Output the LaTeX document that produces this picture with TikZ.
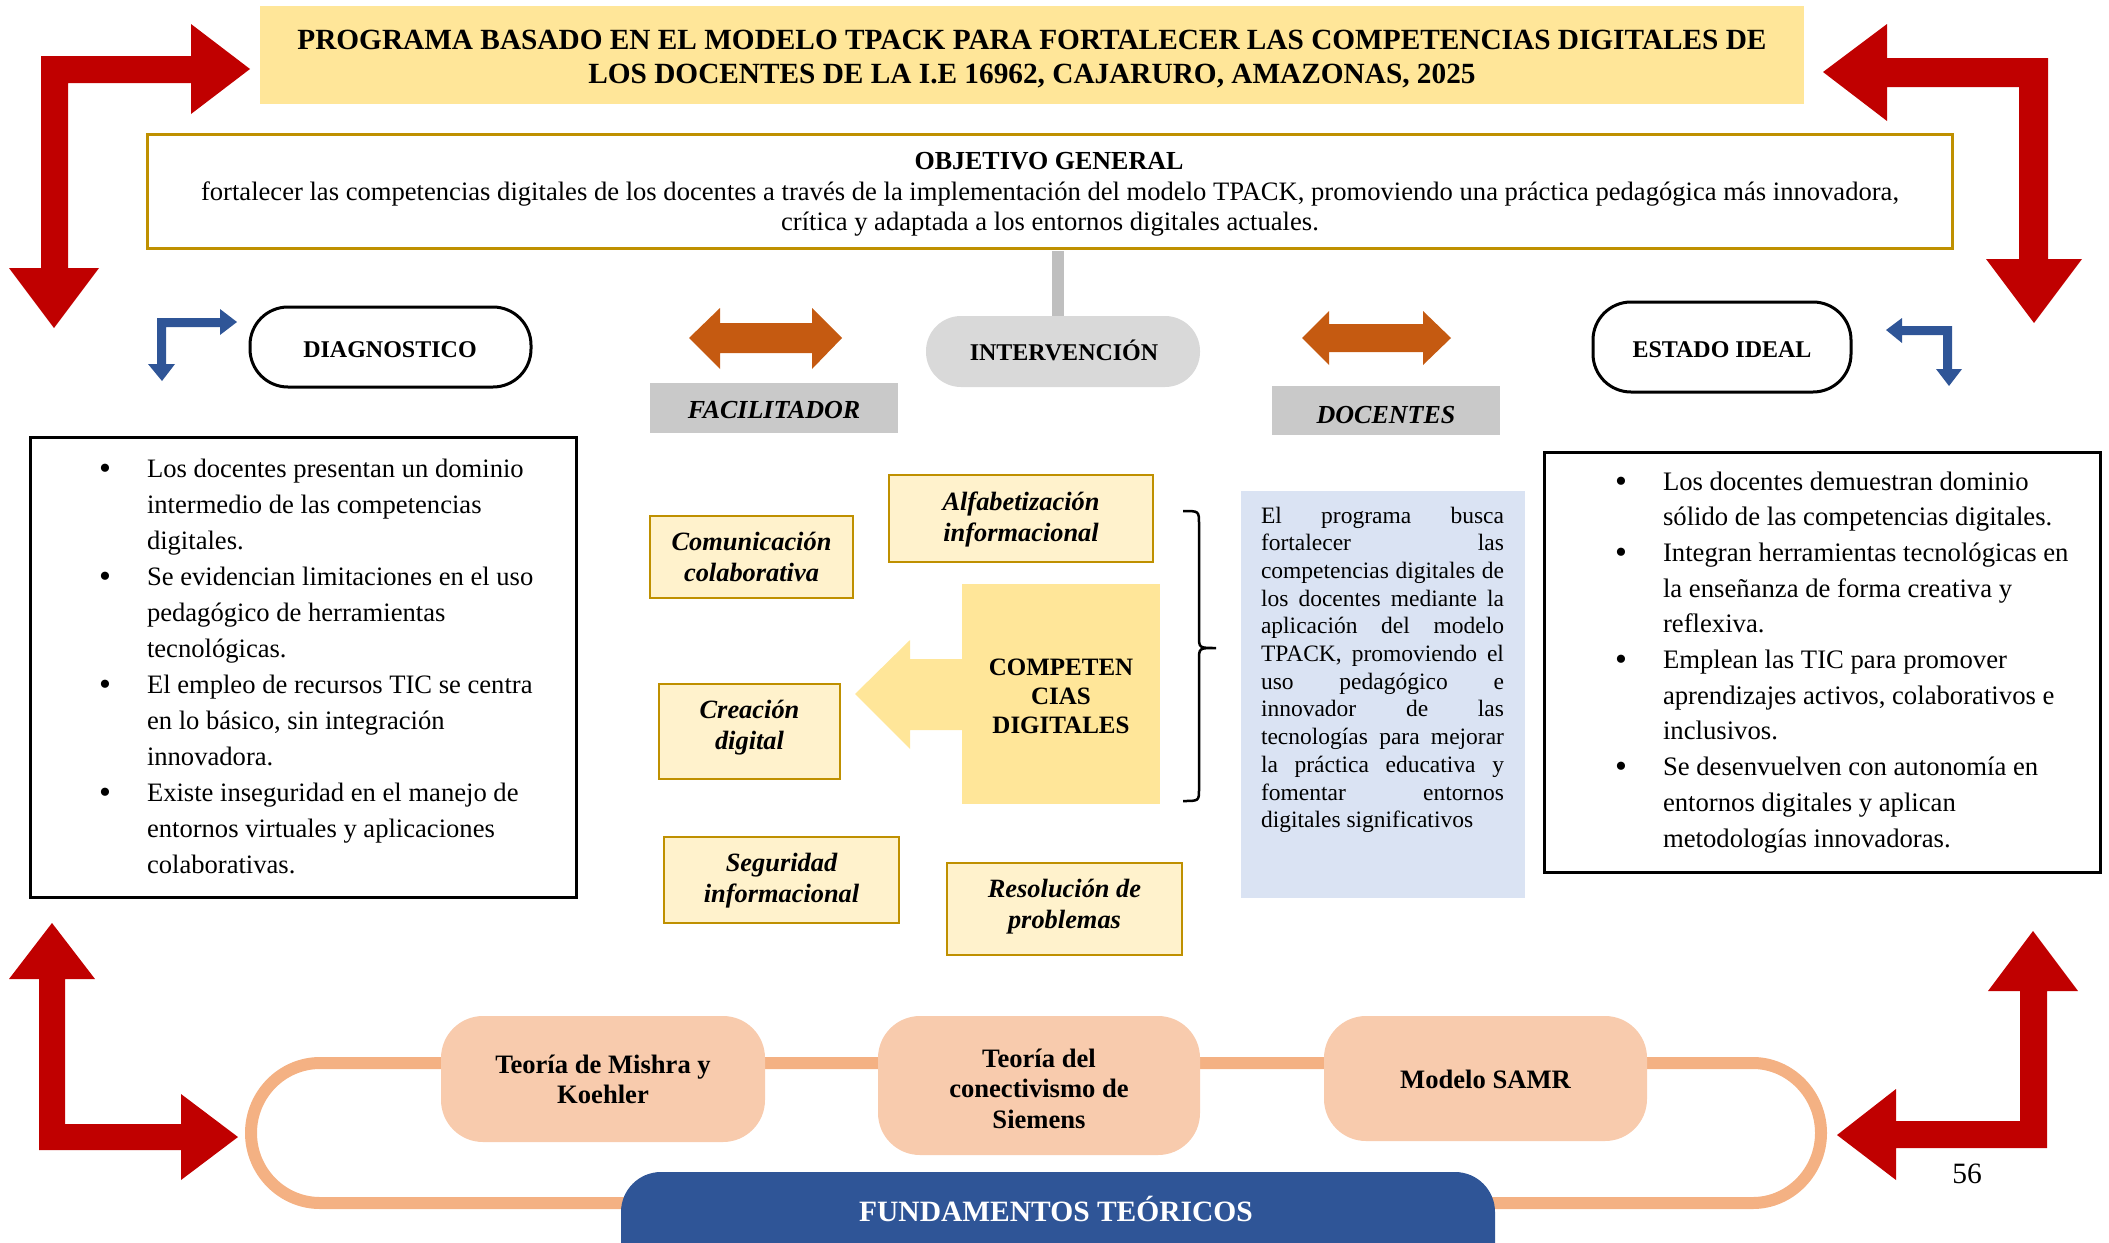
\documentclass[tikz,border=0pt]{standalone}
\usepackage{fontspec}
\setmainfont{Liberation Serif}
\definecolor{cRed}{HTML}{C00000}
\definecolor{cTitle}{HTML}{FFE699}
\definecolor{cGold}{HTML}{BF9000}
\definecolor{cLightGold}{HTML}{FFF2CC}
\definecolor{cOrange}{HTML}{C55A11}
\definecolor{cGrayA}{HTML}{C9C9C9}
\definecolor{cGrayB}{HTML}{D9D9D9}
\definecolor{cGrayBar}{HTML}{BFBFBF}
\definecolor{cBlue}{HTML}{2F5597}
\definecolor{cLightBlue}{HTML}{DAE3F3}
\definecolor{cPeach}{HTML}{F8CBAD}
\definecolor{cTrack}{HTML}{F4B183}
\newcommand\bul{\leavevmode\llap{\raisebox{-2pt}{\fontsize{34}{34}\selectfont •}\hspace{36pt}}}
\newcommand\jline[1]{\leavevmode\hbox to 243pt{\spaceskip=0.25em plus 20em minus 0.05em\relax #1}}
\newcommand\natspace{\spaceskip=\fontdimen2\font\xspaceskip=\fontdimen2\font\relax}
\begin{document}
\begin{tikzpicture}[x=1pt,y=-1pt,
  redarrow/.style={fill=cRed, draw=none},
  bluearrow/.style={fill=cBlue, draw=none},
  orangearrow/.style={fill=cOrange, draw=none},
  shp/.style={inner sep=0pt, outer sep=0pt},
  txt/.style={inner sep=0pt, outer sep=0pt, anchor=base, align=center,
    execute at begin node={\natspace}},
  compbox/.style={shp, draw=cGold, line width=2.5pt, fill=cLightGold},
  comptxt/.style={txt, font=\fontsize{26.4}{31}\selectfont\bfseries\itshape},
  stadium/.style={shp, draw=black, line width=3pt, rounded corners=38pt},
  headtxt/.style={txt, font=\fontsize{24}{28}\selectfont\bfseries},
  grayhead/.style={shp, fill=cGrayA},
  grayheadtxt/.style={txt, font=\fontsize{26}{30}\selectfont\bfseries\itshape},
  bulletbox/.style={shp, draw=black, line width=3pt},
  bullettxt/.style={inner sep=0pt, outer sep=0pt, anchor=base west, align=left,
    execute at begin node={\natspace}},
  pill/.style={shp, fill=cPeach, rounded corners=42pt},
  pilltxt/.style={txt, font=\fontsize{26.6}{30.5}\selectfont\bfseries},
  track/.style={draw=cTrack, line width=12pt},
  graybar/.style={draw=cGrayBar, line width=12pt}
]
\useasboundingbox (0,0) rectangle (2109,1242);

% ---------- red corner arrows ----------
\path[redarrow] (41,268) -- (9,268) -- (54,328) -- (99,268) -- (68,268) -- (68,83) -- (191,83) -- (191,114) -- (250,69) -- (191,24) -- (191,56) -- (41,56) -- cycle;
\path[redarrow] (1823,72) -- (1887,24) -- (1887,58) -- (2048,58) -- (2048,259) -- (2082,259) -- (2034,323) -- (1986,259) -- (2019,259) -- (2019,87) -- (1887,87) -- (1887,121) -- cycle;
\path[redarrow] (52,923) -- (95,979) -- (65,979) -- (65,1124) -- (181,1124) -- (181,1094) -- (238,1137) -- (181,1180) -- (181,1150) -- (39,1150) -- (39,979) -- (9,979) -- cycle;
\path[redarrow] (2033,931) -- (2078,991) -- (2047,991) -- (2047,1148) -- (1896,1148) -- (1896,1180) -- (1837,1135) -- (1896,1089) -- (1896,1121) -- (2020,1121) -- (2020,991) -- (1988,991) -- cycle;

% ---------- title ----------
\node[shp, fill=cTitle, minimum width=1544pt, minimum height=98pt] (title) at (1032,55) {};
\node[txt, text width=1540pt, font=\fontsize{29.3}{34}\selectfont\bfseries] (titletxt) at (1032,49)
  {PROGRAMA BASADO EN EL MODELO TPACK PARA FORTALECER LAS COMPETENCIAS DIGITALES DE\\LOS DOCENTES DE LA I.E 16962, CAJARURO, AMAZONAS, 2025};

% ---------- objetivo ----------
\node[shp, draw=cGold, line width=3pt, minimum width=1805pt, minimum height=114pt] (obj) at (1049.5,191) {};
\node[txt, font=\fontsize{26}{30}\selectfont\bfseries] (objtitle) at (1049,169) {OBJETIVO GENERAL};
\node[txt, text width=1795pt, font=\fontsize{26.6}{30}\selectfont] (objtxt) at (1050,200)
  {fortalecer las competencias digitales de los docentes a través de la implementación del modelo TPACK, promoviendo una práctica pedagógica más innovadora,\\crítica y adaptada a los entornos digitales actuales.};

% ---------- stage headers ----------
\node[stadium, minimum width=281pt, minimum height=80pt] (diag) at (390.5,347) {};
\node[headtxt] (diagtxt) at (390,357) {DIAGNOSTICO};
\node[stadium, minimum width=258pt, minimum height=90pt] (estado) at (1722,347) {};
\node[headtxt] (estadotxt) at (1722,357) {ESTADO IDEAL};
\node[shp, fill=cGrayB, rounded corners=35pt, minimum width=274pt, minimum height=71pt] (interv) at (1063,351.5) {};
\node[headtxt] (intervtxt) at (1064,360) {INTERVENCIÓN};
\coordinate (barx) at (1058,0);
\draw[graybar] (barx |- obj.south) ++(0,3) -- (barx |- interv.north);

% blue bent arrows
\path[bluearrow] (157,364) -- (148,364) -- (162,381) -- (175,364) -- (166,364) -- (166,327) -- (220,327) -- (220,335) -- (237,322) -- (220,309) -- (220,318) -- (157,318) -- cycle;
\path[bluearrow] (1886,330) -- (1902,318) -- (1902,326) -- (1952,326) -- (1952,369) -- (1962,369) -- (1949,386) -- (1936,369) -- (1943,369) -- (1943,335) -- (1902,335) -- (1902,343) -- cycle;

% orange double arrows
\path[orangearrow] (689,338) -- (720,308) -- (720,323) -- (812,323) -- (812,308) -- (842,338) -- (812,369) -- (812,353) -- (720,353) -- (720,369) -- cycle;
\path[orangearrow] (1302,338) -- (1329,311) -- (1329,324) -- (1423,324) -- (1423,311) -- (1451,338) -- (1423,365) -- (1423,352) -- (1329,352) -- (1329,365) -- cycle;

\node[grayhead, minimum width=248pt, minimum height=50pt] (facil) at (774,408) {};
\node[grayheadtxt] (faciltxt) at (774,418) {FACILITADOR};
\node[grayhead, minimum width=228pt, minimum height=49pt] (doc) at (1386,410.5) {};
\node[grayheadtxt] (doctxt) at (1386,423) {DOCENTES};

% ---------- left bullet box ----------
\node[bulletbox, minimum width=546pt, minimum height=460pt] (leftbox) at (303,667) {};
\node[bullettxt, text width=425pt, font=\fontsize{26.6}{36}\selectfont] (lefttxt) at (147,477)
  {\bul Los docentes presentan un dominio\\
   intermedio de las competencias\\
   digitales.\\
   \bul Se evidencian limitaciones en el uso\\
   pedagógico de herramientas\\
   tecnológicas.\\
   \bul El empleo de recursos TIC se centra\\
   en lo básico, sin integración\\
   innovadora.\\
   \bul Existe inseguridad en el manejo de\\
   entornos virtuales y aplicaciones\\
   colaborativas.};

% ---------- right bullet box ----------
\node[bulletbox, minimum width=556pt, minimum height=420pt] (rightbox) at (1822,662) {};
\node[bullettxt, text width=432pt, font=\fontsize{26.7}{35.7}\selectfont] (righttxt) at (1663,490)
  {\bul Los docentes demuestran dominio\\
   sólido de las competencias digitales.\\
   \bul Integran herramientas tecnológicas en\\
   la enseñanza de forma creativa y\\
   reflexiva.\\
   \bul Emplean las TIC para promover\\
   aprendizajes activos, colaborativos e\\
   inclusivos.\\
   \bul Se desenvuelven con autonomía en\\
   entornos digitales y aplican\\
   metodologías innovadoras.};

% ---------- competencias ----------
\node[shp, fill=cTitle, minimum width=198pt, minimum height=220pt] (compbig) at (1061,694) {};
\path[fill=cTitle] (compbig.west |- 0,659) -- (910,659) -- (910,640) -- (855,694) -- (910,749) -- (910,730) -- (compbig.west |- 0,730) -- cycle;
\node[txt, text width=198pt, font=\fontsize{25}{29}\selectfont\bfseries] (compbigtxt) at (1061,675) {COMPETEN\\CIAS\\DIGITALES};

\node[compbox, minimum width=203pt, minimum height=82pt] (comunic) at (751.5,557) {};
\node[comptxt, text width=200pt] (comunictxt) at (751.5,550) {Comunicación\\colaborativa};
\node[compbox, minimum width=264pt, minimum height=87pt] (alfab) at (1021,518.5) {};
\node[comptxt, text width=260pt] (alfabtxt) at (1021,510) {Alfabetización\\informacional};
\node[compbox, minimum width=181pt, minimum height=95pt] (creac) at (749.5,731.5) {};
\node[comptxt, text width=178pt] (creactxt) at (749.5,718) {Creación\\digital};
\node[compbox, minimum width=235pt, minimum height=86pt] (segur) at (781.5,880) {};
\node[comptxt, text width=232pt] (segurtxt) at (781.5,871) {Seguridad\\informacional};
\node[compbox, minimum width=235pt, minimum height=92pt] (resol) at (1064.5,909) {};
\node[comptxt, text width=232pt] (resoltxt) at (1064.5,897) {Resolución de\\problemas};

% brace
\draw[line width=2.5pt] (1183,511) .. controls (1199,511) .. (1199,524) -- (1199,636) .. controls (1199,648) .. (1216,648) .. controls (1199,648) .. (1199,660) -- (1199,789) .. controls (1199,801) .. (1183,801);

% ---------- light blue box ----------
\node[shp, fill=cLightBlue, minimum width=284pt, minimum height=407pt] (bluebox) at (1383,694.5) {};
\node[bullettxt, text width=243pt, font=\fontsize{23.5}{27.7}\selectfont] (bluetxt) at (1261,523)
  {\jline{El programa busca}\\
   \jline{fortalecer las}\\
   \jline{competencias digitales de}\\
   \jline{los docentes mediante la}\\
   \jline{aplicación del modelo}\\
   \jline{TPACK, promoviendo el}\\
   \jline{uso pedagógico e}\\
   \jline{innovador de las}\\
   \jline{tecnologías para mejorar}\\
   \jline{la práctica educativa y}\\
   \jline{fomentar entornos}\\
   digitales significativos};

% ---------- fundamentos ----------
\draw[track] (320,1063) -- (1753,1063) .. controls (1790,1063) and (1821,1094.5) .. (1821,1133) .. controls (1821,1171.5) and (1790,1203) .. (1753,1203) -- (320,1203) .. controls (282,1203) and (251,1171.5) .. (251,1133) .. controls (251,1094.5) and (282,1063) .. (320,1063) -- cycle;

\node[pill, minimum width=324pt, minimum height=126pt] (mishra) at (603,1079) {};
\node[pilltxt, text width=320pt] (mishratxt) at (603,1073) {Teoría de Mishra y\\Koehler};
\node[pill, minimum width=322pt, minimum height=139pt] (conect) at (1039,1085.5) {};
\node[pilltxt, text width=318pt] (conecttxt) at (1039,1067) {Teoría del\\conectivismo de\\Siemens};
\node[pill, minimum width=323pt, minimum height=125pt] (samr) at (1485.5,1078.5) {};
\node[pilltxt] (samrtxt) at (1485.5,1088) {Modelo SAMR};

\begin{scope}
\clip (0,0) rectangle (2109,1242);
\node[shp, fill=cBlue, rounded corners=40pt, minimum width=874pt, minimum height=118pt] (fund) at (1058,1231) {};
\end{scope}
\node[txt, text=white, font=\fontsize{29.5}{34}\selectfont\bfseries] (fundtxt) at (1056,1221) {FUNDAMENTOS TEÓRICOS};

\node[txt, font=\fontsize{29.5}{34}\selectfont] (pagenum) at (1967,1183) {56};
\end{tikzpicture}
\end{document}
